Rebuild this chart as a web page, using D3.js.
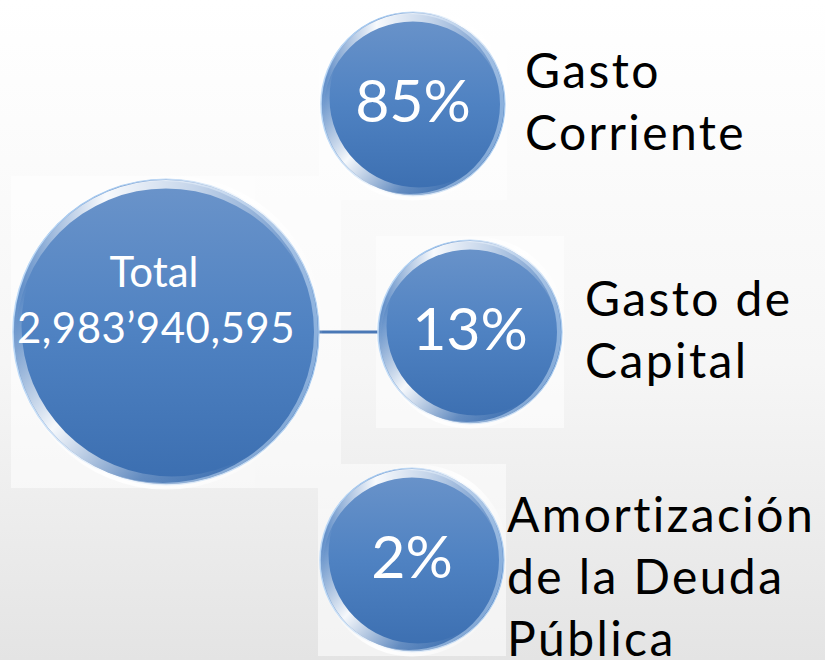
<!DOCTYPE html>
<html>
<head>
<meta charset="utf-8">
<script src="https://cdn.jsdelivr.net/npm/d3@7"></script>
<style>
  html, body { margin: 0; padding: 0; background: #fff; }
  svg { display: block; }
</style>
</head>
<body>
<div id="chart"></div>
<script>
// data
const categories = ['Gasto Corriente', 'Gasto de Capital', 'Amortización de la Deuda Pública'];
const labelLines = [['Gasto', 'Corriente'], ['Gasto de', 'Capital'], ['Amortización', 'de la Deuda', 'Pública']];
const percents = [85, 13, 2];
const totalTitle = 'Total';
const totalValue = '2,983\u2019940,595';

const width = 825, height = 660;
const font = 'Lato, "Open Sans", sans-serif';

const svg = d3.select('#chart').append('svg')
    .attr('width', width)
    .attr('height', height);

const defs = svg.append('defs');

// background gradient white -> light grey
const bg = defs.append('linearGradient').attr('id', 'bg')
    .attr('x1', 0).attr('y1', 0).attr('x2', 0).attr('y2', 1);
bg.append('stop').attr('offset', '0%').attr('stop-color', '#ffffff');
bg.append('stop').attr('offset', '55%').attr('stop-color', '#f6f6f6');
bg.append('stop').attr('offset', '100%').attr('stop-color', '#e4e4e4');

// bubble fill
const ball = defs.append('linearGradient').attr('id', 'ball')
    .attr('x1', 0).attr('y1', 0).attr('x2', 0).attr('y2', 1);
ball.append('stop').attr('offset', '0%').attr('stop-color', '#6b94ca');
ball.append('stop').attr('offset', '50%').attr('stop-color', '#4f82c2');
ball.append('stop').attr('offset', '100%').attr('stop-color', '#3b6eb0');

// gloss on the top rim
const glossTop = defs.append('linearGradient').attr('id', 'glossTop')
    .attr('x1', 0).attr('y1', 0).attr('x2', 1).attr('y2', 0);
glossTop.append('stop').attr('offset', '0%').attr('stop-color', '#fff').attr('stop-opacity', 0);
glossTop.append('stop').attr('offset', '30%').attr('stop-color', '#fff').attr('stop-opacity', 0.95);
glossTop.append('stop').attr('offset', '60%').attr('stop-color', '#fff').attr('stop-opacity', 0.6);
glossTop.append('stop').attr('offset', '100%').attr('stop-color', '#fff').attr('stop-opacity', 0);

// gloss on the bottom-left rim
const glossBot = defs.append('linearGradient').attr('id', 'glossBot')
    .attr('x1', 0).attr('y1', 0.4).attr('x2', 0.7).attr('y2', 1);
glossBot.append('stop').attr('offset', '0%').attr('stop-color', '#fff').attr('stop-opacity', 0);
glossBot.append('stop').attr('offset', '40%').attr('stop-color', '#fff').attr('stop-opacity', 0.95);
glossBot.append('stop').attr('offset', '75%').attr('stop-color', '#fff').attr('stop-opacity', 0.2);
glossBot.append('stop').attr('offset', '100%').attr('stop-color', '#fff').attr('stop-opacity', 0);

svg.append('rect')
    .attr('width', width).attr('height', height)
    .attr('fill', 'url(#bg)');

// faint lighter patches behind the shapes (as in the original slide)
const patches = svg.append('g').attr('fill', '#ffffff').attr('opacity', 0.55);

// big "Total" bubble and the three small ones
const big = {x: 166, y: 332, r: 153};
const smallR = 92;

const y = d3.scalePoint()
    .domain(categories)
    .range([104, 560]);

const x = d3.scaleOrdinal()
    .domain(categories)
    .range([413, 470, 412]);

patches.append('rect').attr('x', 11).attr('y', 176).attr('width', 330).attr('height', 312);
categories.forEach(c => {
    patches.append('rect')
        .attr('x', x(c) - smallR - 2).attr('y', y(c) - smallR - 4)
        .attr('width', smallR * 2 + 4).attr('height', smallR * 2 + 8);
});

// connector to the middle bubble
svg.append('line')
    .attr('x1', big.x + big.r).attr('x2', x(categories[1]) - smallR)
    .attr('y1', big.y).attr('y2', big.y)
    .attr('stroke', '#4a78b6')
    .attr('stroke-width', 3);

function crescent(cx, cy, r, dx, dy, shrink) {
    const p = d3.path();
    p.moveTo(cx + r, cy);
    p.arc(cx, cy, r, 0, Math.PI * 2);
    p.closePath();
    const r2 = r - shrink;
    p.moveTo(cx + dx + r2, cy + dy);
    p.arc(cx + dx, cy + dy, r2, 0, Math.PI * 2);
    p.closePath();
    return p.toString();
}

function bubble(cx, cy, r) {
    const g = svg.append('g');
    g.append('circle')
        .attr('cx', cx).attr('cy', cy).attr('r', r)
        .attr('fill', 'url(#ball)')
        .attr('stroke', '#a4c9f0')
        .attr('stroke-width', 1.2);
    // thin light rim on the right side
    g.append('path')
        .attr('d', crescent(cx, cy, r - 1, -3, 0, 1))
        .attr('fill-rule', 'evenodd')
        .attr('fill', '#d6ebff')
        .attr('opacity', 0.45);
    g.append('path')
        .attr('d', crescent(cx, cy, r - 1, 0, 7, 1.5))
        .attr('fill-rule', 'evenodd')
        .attr('fill', 'url(#glossTop)');
    g.append('path')
        .attr('d', crescent(cx, cy, r - 1, 6, -6, 1.5))
        .attr('fill-rule', 'evenodd')
        .attr('fill', 'url(#glossBot)');
    return g;
}

bubble(big.x, big.y, big.r);
svg.append('text')
    .attr('x', big.x - 12).attr('y', 287)
    .attr('text-anchor', 'middle')
    .attr('font-family', font).attr('font-size', 42)
    .attr('fill', '#ffffff')
    .text(totalTitle);
svg.append('text')
    .attr('x', big.x - 10).attr('y', 343)
    .attr('text-anchor', 'middle')
    .attr('font-family', font).attr('font-size', 42)
    .attr('letter-spacing', 0.5)
    .attr('fill', '#ffffff')
    .text(totalValue);

categories.forEach((c, i) => {
    const cx = x(c), cy = y(c);
    bubble(cx, cy, smallR);
    svg.append('text')
        .attr('x', cx).attr('y', cy + 18)
        .attr('text-anchor', 'middle')
        .attr('font-family', font).attr('font-size', 59)
        .attr('fill', '#ffffff')
        .text(percents[i] + '%');

    const lines = labelLines[i];
    const gap = [20, 23, 3][i];
    const t = svg.append('text')
        .attr('x', cx + smallR + gap)
        .attr('y', cy - (lines.length === 3 ? 28 : 16))
        .attr('font-family', font).attr('font-size', 48)
        .attr('letter-spacing', 2.4)
        .attr('fill', '#000000');
    t.selectAll('tspan')
        .data(lines)
        .join('tspan')
        .attr('x', cx + smallR + gap)
        .attr('dy', (d, j) => j === 0 ? 0 : 62)
        .text(d => d);
});
</script>
</body>
</html>
